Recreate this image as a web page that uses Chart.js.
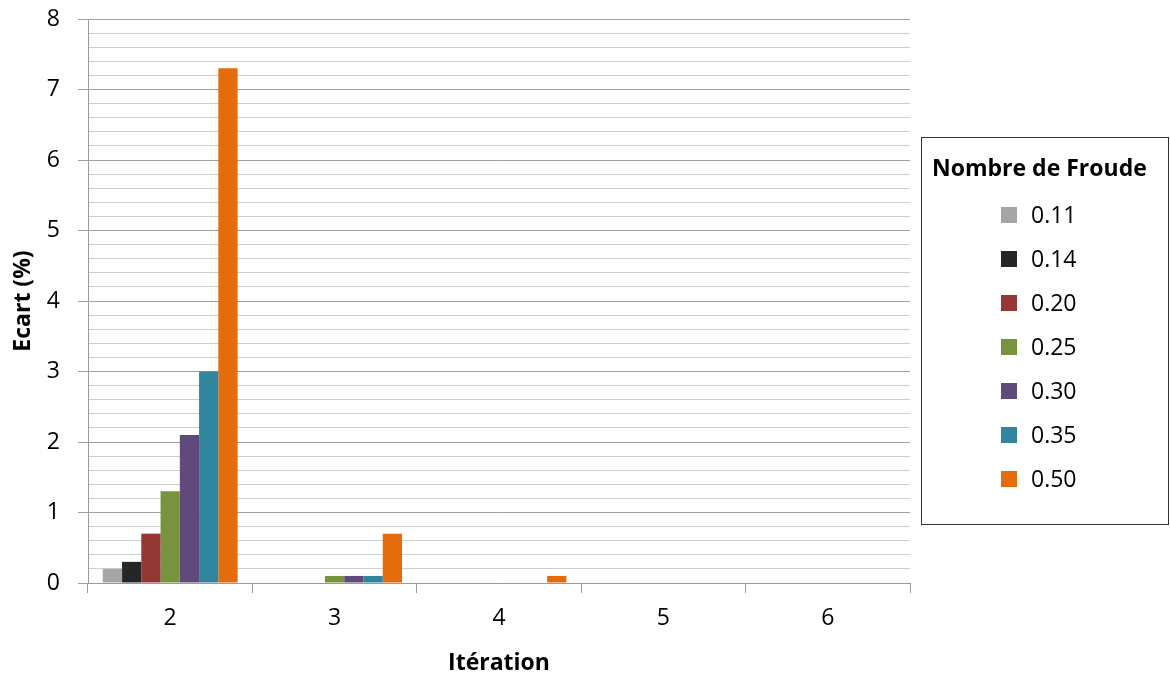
<!DOCTYPE html>
<html>
<head>
<meta charset="utf-8">
<script src="https://cdn.jsdelivr.net/npm/chart.js@4"></script>
<style>
  html, body { margin: 0; padding: 0; background: #fff; }
  #wrap { width: 1170px; height: 677px; }
</style>
</head>
<body>
<div id="wrap"><canvas id="ecartChart"></canvas></div>
<script>
// Data
const iterations = ['2', '3', '4', '5', '6'];
const froudeLabels = ['0.11', '0.14', '0.20', '0.25', '0.30', '0.35', '0.50'];
const fr011 = [0.2, 0, 0, 0, 0];
const fr014 = [0.3, 0, 0, 0, 0];
const fr020 = [0.7, 0, 0, 0, 0];
const fr025 = [1.3, 0.1, 0, 0, 0];
const fr030 = [2.1, 0.1, 0, 0, 0];
const fr035 = [3.0, 0.1, 0, 0, 0];
const fr050 = [7.3, 0.7, 0.1, 0, 0];
const yTicks = [0, 1, 2, 3, 4, 5, 6, 7, 8];

const seriesValues = [fr011, fr014, fr020, fr025, fr030, fr035, fr050];
const seriesColors = ['#a5a5a5', '#262626', '#953735', '#77933c', '#604a7b', '#31859c', '#e46c0a'];

const FONT = "'Open Sans', sans-serif";

const isMajor = v => Math.abs(v - Math.round(v)) < 1e-6;

// Legend drawn in a bordered box, like the original
const boxLegend = {
  id: 'boxLegend',
  afterDraw(chart) {
    const ctx = chart.ctx;
    const left = 921, top = 137, right = 1169, bottom = 525;
    ctx.save();
    ctx.strokeStyle = '#333';
    ctx.lineWidth = 1;
    ctx.strokeRect(left + 0.5, top + 0.5, right - left - 1, bottom - top - 1);
    ctx.fillStyle = '#000';
    ctx.font = 'bold 23px ' + FONT;
    ctx.textBaseline = 'middle';
    ctx.textAlign = 'left';
    ctx.fillText('Nombre de Froude', 932, 169);
    ctx.font = '23px ' + FONT;
    chart.data.datasets.forEach((ds, i) => {
      const cy = 215 + i * 44;
      ctx.fillStyle = ds.backgroundColor;
      ctx.fillRect(1001, cy - 8, 16, 16);
      ctx.fillStyle = '#000';
      ctx.fillText(ds.label, 1031, cy + 1);
    });
    ctx.restore();
  }
};

const ecartChartConfig = {
  type: 'bar',
  data: {
    labels: iterations,
    datasets: froudeLabels.map((lab, i) => ({
      label: lab,
      data: seriesValues[i],
      backgroundColor: seriesColors[i],
      borderWidth: 0,
      categoryPercentage: 0.82,
      barPercentage: 1.0
    }))
  },
  options: {
    responsive: true,
    maintainAspectRatio: false,
    animation: false,
    layout: { padding: { top: 19, right: 260, bottom: 0, left: 12 } },
    plugins: {
      legend: { display: false },
      tooltip: { enabled: false }
    },
    scales: {
      x: {
        afterFit: scale => { scale.height = 94; scale.paddingLeft = 0; scale.paddingRight = 0; },
        grid: {
          drawOnChartArea: false,
          drawTicks: true,
          tickLength: 10,
          color: '#9a9a9a'
        },
        border: { color: '#9a9a9a' },
        ticks: { color: '#000', font: { family: FONT, size: 23 }, padding: 12 },
        title: {
          display: true,
          text: 'Itération',
          color: '#000',
          font: { family: FONT, size: 23, weight: 'bold' },
          padding: { top: 16, bottom: 0 }
        }
      },
      y: {
        min: 0,
        max: 8,
        afterFit: scale => { scale.width = 76; scale.paddingTop = 0; scale.paddingBottom = 0; },
        ticks: {
          stepSize: 0.2,
          autoSkip: false,
          color: '#000',
          font: { family: FONT, size: 23 },
          padding: 18,
          callback: v => (isMajor(v) && yTicks.includes(Math.round(v))) ? String(Math.round(v)) : ''
        },
        grid: {
          tickLength: 10,
          color: c => isMajor(c.tick.value) ? '#a0a0a0' : '#cfcfcf',
          tickColor: c => isMajor(c.tick.value) ? '#a0a0a0' : 'rgba(0,0,0,0)'
        },
        border: { color: '#9a9a9a' },
        title: {
          display: true,
          text: 'Ecart (%)',
          color: '#000',
          font: { family: FONT, size: 23, weight: 'bold', lineHeight: 1.0 },
          padding: { top: 0, bottom: 12 }
        }
      }
    }
  },
  plugins: [boxLegend]
};

const ecartChart = new Chart(document.getElementById('ecartChart'), ecartChartConfig);
</script>
</body>
</html>
